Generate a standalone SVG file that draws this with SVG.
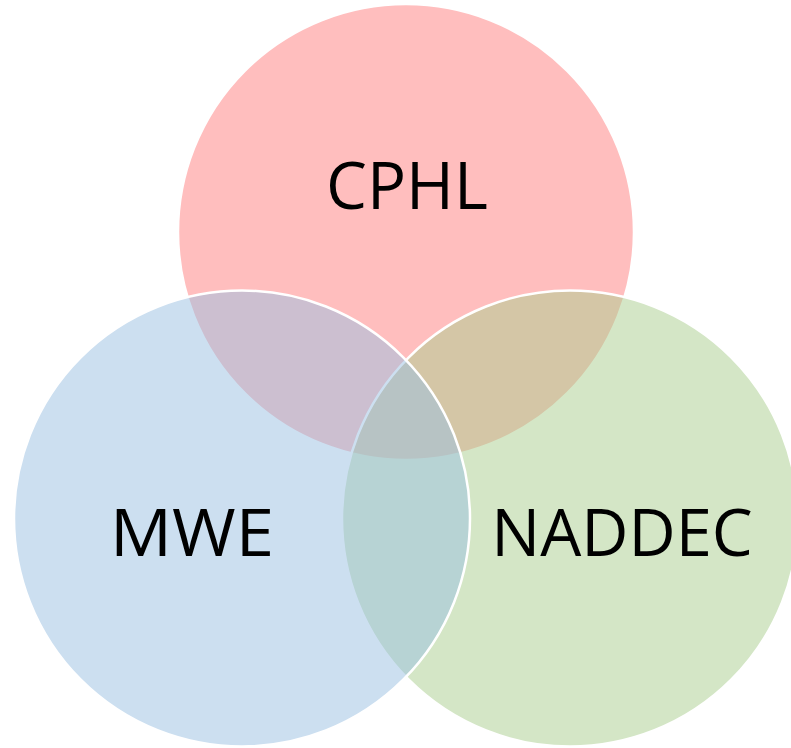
<svg xmlns="http://www.w3.org/2000/svg" width="791" height="748" viewBox="0 0 791 748">
  <style>
    .c { stroke: #FFFFFF; stroke-width: 2.5; }
    .red { fill: rgb(255,125,125); fill-opacity: 0.5; }
    .green { fill: rgb(169,205,141); fill-opacity: 0.5; }
    .blue { fill: rgb(153,191,225); fill-opacity: 0.5; }
    .lbl { font-family: "Open Sans", "Liberation Sans", sans-serif; font-size: 65px; fill: #000000; text-anchor: middle; }
  </style>
  <rect x="0" y="0" width="791" height="748" fill="#FFFFFF"/>
  <g id="cphl">
    <circle class="c red" cx="406" cy="232" r="228"/>
    <text class="lbl" x="407" y="209">CPHL</text>
  </g>
  <g id="naddec">
    <circle class="c green" cx="570" cy="518.5" r="228"/>
    <text class="lbl" x="622" y="556">NADDEC</text>
  </g>
  <g id="mwe">
    <circle class="c blue" cx="242" cy="518.5" r="228"/>
    <text class="lbl" x="192" y="556" textLength="164" lengthAdjust="spacingAndGlyphs">MWE</text>
  </g>
  <g id="connectors"></g>
</svg>
